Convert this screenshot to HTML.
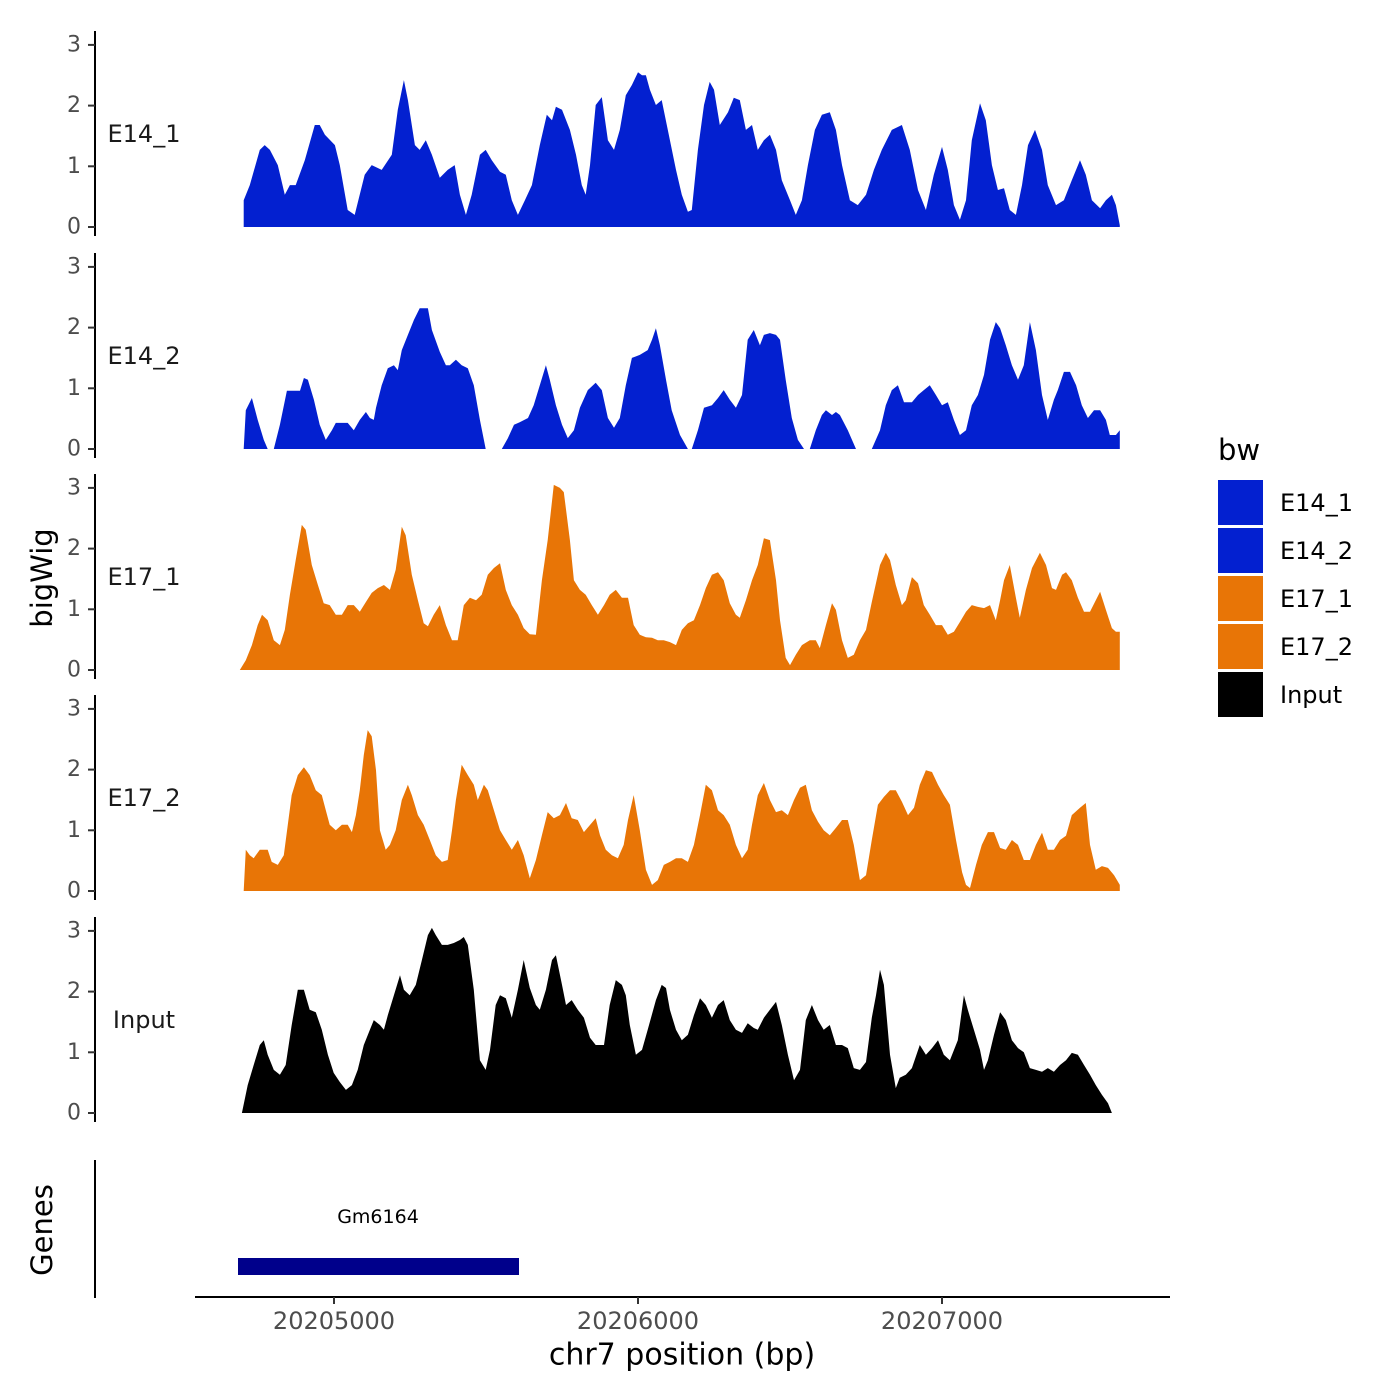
<!DOCTYPE html>
<html><head><meta charset="utf-8"><style>
html,body{margin:0;padding:0;background:#fff;}
svg{display:block;font-family:"DejaVu Sans","Liberation Sans",sans-serif;}
</style></head><body>
<svg id="chart" width="1400" height="1400" viewBox="0 0 1400 1400">
<rect x="0" y="0" width="1400" height="1400" fill="#fff"/>
<g id="tracks"></g>
<g id="axes"></g>
<text x="42" y="578" transform="rotate(-90 42 578)" text-anchor="middle" dominant-baseline="central" font-size="29" fill="#000">bigWig</text>
<text x="42" y="1230" transform="rotate(-90 42 1230)" text-anchor="middle" dominant-baseline="central" font-size="29" fill="#000">Genes</text>
<line x1="95" y1="1160" x2="95" y2="1298" stroke="#000" stroke-width="2"/>
<rect x="238" y="1258" width="281" height="17" fill="#00008B"/>
<text x="378" y="1217" text-anchor="middle" dominant-baseline="central" font-size="19" fill="#000">Gm6164</text>
<line x1="195" y1="1297" x2="1170" y2="1297" stroke="#000" stroke-width="2"/>
<g id="xticks"></g>
<text x="682" y="1355" text-anchor="middle" dominant-baseline="central" font-size="30" fill="#000">chr7 position (bp)</text>
<g id="legend">
<text x="1218" y="450" dominant-baseline="central" font-size="29" fill="#000">bw</text>
</g>
</svg>
<script>
const regionStart = 20204700;
const trackNames = ["E14_1","E14_2","E17_1","E17_2","Input"];
const trackColors = ["#0320D0","#0320D0","#E87506","#E87506","#000000"];
const yTicks = [0,1,2,3];
const xTickValues = [20205000,20206000,20207000];
const xTickLabels = ["20205000","20206000","20207000"];

const e14_1_pos = [3,23,56,72,89,115,138,155,174,204,237,253,270,303,319,345,368,401,424,457,490,510,530,543,566,582,602,622,648,674,697,714,734,753,780,799,819,846,865,885,905,928,951,977,1000,1017,1030,1050,1076,1096,1115,1128,1142,1161,1181,1201,1221,1240,1260,1280,1300,1313,1326,1339,1359,1378,1398,1425,1444,1464,1477,1497,1517,1536,1550,1569,1596,1615,1635,1655,1675,1694,1714,1734,1754,1773,1800,1819,1839,1859,1882,1905,1931,1951,1971,1997,2023,2050,2076,2102,2135,2168,2194,2221,2247,2273,2300,2319,2339,2359,2379,2398,2425,2444,2464,2484,2504,2523,2543,2563,2583,2606,2629,2648,2675,2701,2727,2754,2773,2793,2820,2839,2859,2872,2885];
const e14_1_val = [0.44,0.69,1.27,1.35,1.27,1.02,0.53,0.69,0.69,1.10,1.68,1.68,1.52,1.35,1.02,0.28,0.20,0.86,1.02,0.94,1.19,1.93,2.42,2.09,1.35,1.27,1.43,1.19,0.81,0.94,1.02,0.53,0.20,0.53,1.19,1.27,1.10,0.91,0.86,0.44,0.20,0.44,0.69,1.35,1.85,1.76,1.98,1.93,1.60,1.19,0.69,0.53,1.02,2.01,2.14,1.43,1.27,1.60,2.17,2.34,2.55,2.50,2.50,2.26,2.01,2.09,1.60,0.94,0.53,0.25,0.28,1.27,2.01,2.39,2.26,1.68,1.89,2.13,2.09,1.60,1.68,1.27,1.43,1.52,1.27,0.77,0.44,0.20,0.44,1.02,1.60,1.85,1.89,1.60,1.02,0.44,0.36,0.53,0.94,1.27,1.60,1.68,1.27,0.61,0.28,0.86,1.32,0.94,0.36,0.12,0.44,1.43,2.04,1.76,1.02,0.61,0.64,0.28,0.20,0.69,1.35,1.60,1.27,0.69,0.36,0.44,0.77,1.10,0.86,0.44,0.31,0.44,0.53,0.36,0.03];

const e14_2_pos = [3,10,30,49,69,82,102,122,145,188,201,214,234,253,273,293,306,345,365,385,405,418,431,438,457,477,497,510,523,543,563,582,609,622,648,668,681,701,720,740,760,780,799,852,872,892,911,938,957,977,997,1010,1030,1050,1069,1089,1109,1135,1161,1181,1201,1221,1240,1260,1280,1306,1332,1346,1359,1372,1392,1411,1438,1464,1477,1497,1517,1543,1563,1582,1602,1622,1642,1661,1681,1701,1714,1734,1754,1767,1786,1806,1826,1846,1865,1885,1905,1918,1938,1951,1964,1990,2017,2069,2096,2115,2135,2155,2175,2201,2221,2240,2260,2280,2300,2319,2339,2359,2379,2398,2418,2438,2458,2477,2491,2510,2530,2550,2569,2589,2609,2629,2648,2668,2681,2701,2721,2741,2760,2780,2800,2820,2839,2852,2872,2885];
const e14_2_val = [0,0.64,0.84,0.48,0.15,0,0,0.40,0.96,0.96,1.17,1.14,0.81,0.40,0.15,0.31,0.43,0.43,0.31,0.48,0.61,0.51,0.48,0.68,1.05,1.33,1.38,1.30,1.63,1.88,2.13,2.32,2.32,1.96,1.60,1.38,1.38,1.47,1.38,1.33,1.05,0.48,0,0,0.18,0.40,0.44,0.51,0.72,1.05,1.38,1.14,0.72,0.40,0.18,0.31,0.68,0.97,1.09,0.97,0.51,0.35,0.51,1.05,1.50,1.55,1.63,1.80,1.99,1.71,1.14,0.64,0.23,0,0,0.31,0.68,0.72,0.84,0.97,0.81,0.68,0.89,1.80,1.96,1.71,1.88,1.91,1.88,1.80,1.14,0.51,0.15,0,0,0.31,0.56,0.64,0.56,0.61,0.56,0.31,0,0,0.31,0.72,0.97,1.05,0.77,0.77,0.89,0.97,1.05,0.89,0.72,0.77,0.48,0.23,0.31,0.72,0.89,1.22,1.80,2.09,1.99,1.71,1.38,1.14,1.38,2.09,1.63,0.89,0.48,0.81,0.97,1.27,1.27,1.05,0.72,0.51,0.64,0.64,0.48,0.23,0.23,0.31];

const e17_1_pos = [-10,10,30,49,63,82,102,122,138,155,174,194,207,227,247,266,286,306,326,345,365,385,405,424,444,464,484,503,523,536,556,576,595,609,628,648,668,688,707,727,747,767,786,806,826,846,865,885,905,924,944,964,984,1003,1023,1043,1056,1076,1089,1109,1128,1148,1168,1188,1207,1227,1247,1267,1286,1306,1326,1346,1365,1385,1405,1425,1444,1464,1484,1504,1523,1543,1563,1582,1602,1622,1635,1655,1675,1694,1714,1734,1754,1767,1786,1800,1819,1839,1865,1885,1898,1918,1938,1951,1971,1990,2010,2030,2050,2069,2096,2115,2129,2148,2168,2181,2201,2221,2240,2260,2280,2300,2319,2339,2359,2379,2398,2418,2438,2458,2477,2491,2504,2523,2543,2556,2576,2596,2622,2642,2662,2675,2695,2708,2727,2747,2767,2787,2806,2820,2839,2859,2872,2885];
const e17_1_val = [0,0.16,0.41,0.74,0.91,0.82,0.49,0.41,0.66,1.24,1.81,2.39,2.31,1.73,1.40,1.10,1.07,0.91,0.91,1.07,1.07,0.96,1.12,1.27,1.35,1.40,1.32,1.65,2.36,2.22,1.57,1.15,0.77,0.72,0.91,1.07,0.74,0.49,0.49,1.07,1.19,1.15,1.24,1.57,1.68,1.76,1.32,1.07,0.91,0.69,0.59,0.58,1.48,2.14,3.05,3.00,2.93,2.14,1.48,1.32,1.24,1.07,0.91,1.07,1.24,1.32,1.19,1.19,0.74,0.58,0.54,0.53,0.49,0.49,0.46,0.41,0.66,0.77,0.82,1.07,1.35,1.57,1.61,1.48,1.10,0.91,0.86,1.15,1.48,1.73,2.17,2.14,1.48,0.82,0.20,0.08,0.25,0.41,0.49,0.49,0.36,0.74,1.10,0.99,0.49,0.20,0.25,0.49,0.66,1.12,1.73,1.93,1.81,1.40,1.07,1.15,1.53,1.43,1.07,0.91,0.74,0.74,0.58,0.63,0.79,0.96,1.07,1.04,1.02,1.07,0.82,1.15,1.48,1.73,1.19,0.86,1.32,1.68,1.93,1.73,1.35,1.32,1.57,1.61,1.48,1.19,0.96,0.96,1.15,1.29,0.99,0.69,0.63,0.63];

const e17_2_pos = [3,10,23,36,56,82,95,115,135,148,161,181,201,220,240,260,273,286,306,326,345,359,372,385,398,411,424,438,451,470,484,503,523,543,556,576,595,615,635,655,674,688,701,720,740,760,773,793,806,826,846,865,885,905,924,944,964,984,1003,1023,1043,1063,1082,1102,1122,1161,1175,1194,1214,1234,1253,1267,1286,1306,1326,1346,1365,1385,1405,1425,1444,1464,1484,1504,1523,1543,1563,1582,1602,1622,1642,1661,1675,1694,1714,1734,1754,1773,1793,1813,1833,1852,1872,1892,1911,1931,1951,1971,1990,2010,2030,2050,2069,2089,2109,2129,2148,2168,2188,2208,2227,2247,2267,2287,2306,2326,2346,2366,2379,2392,2412,2431,2451,2471,2491,2510,2530,2550,2569,2589,2609,2629,2648,2668,2688,2708,2727,2754,2773,2787,2806,2826,2846,2866,2885];
const e17_2_val = [0,0.68,0.59,0.54,0.68,0.68,0.48,0.43,0.59,1.09,1.58,1.91,2.04,1.91,1.66,1.58,1.33,1.09,1.00,1.09,1.09,0.97,1.25,1.66,2.24,2.65,2.55,1.99,1.00,0.68,0.76,1.00,1.50,1.75,1.58,1.25,1.09,0.84,0.59,0.48,0.51,1.00,1.50,2.08,1.91,1.75,1.50,1.75,1.66,1.33,1.00,0.84,0.68,0.84,0.59,0.21,0.51,0.92,1.30,1.20,1.25,1.45,1.20,1.17,0.97,1.20,0.92,0.68,0.59,0.54,0.76,1.17,1.58,1.00,0.35,0.10,0.18,0.43,0.48,0.54,0.54,0.48,0.76,1.25,1.75,1.66,1.33,1.25,1.09,0.76,0.54,0.68,1.09,1.58,1.78,1.50,1.30,1.33,1.25,1.50,1.70,1.75,1.33,1.14,1.00,0.92,1.04,1.17,1.17,0.76,0.18,0.26,0.84,1.42,1.55,1.66,1.66,1.47,1.25,1.37,1.75,1.99,1.96,1.75,1.58,1.42,0.84,0.31,0.10,0.05,0.43,0.76,0.97,0.97,0.71,0.68,0.84,0.76,0.51,0.51,0.76,0.96,0.68,0.68,0.84,0.91,1.25,1.37,1.45,0.76,0.35,0.41,0.38,0.26,0.10];

const input_pos = [-3,16,36,56,69,82,102,122,141,161,181,201,220,240,260,280,299,319,339,359,378,398,418,431,451,464,477,497,517,530,549,569,589,609,622,635,655,674,694,714,727,740,760,780,799,813,832,846,865,885,905,924,944,964,977,997,1017,1030,1050,1063,1082,1102,1122,1142,1161,1188,1207,1227,1247,1260,1273,1293,1313,1332,1359,1378,1392,1405,1425,1444,1464,1484,1504,1523,1543,1563,1582,1602,1622,1642,1661,1681,1694,1714,1734,1754,1773,1793,1813,1833,1852,1872,1892,1911,1931,1951,1971,1990,2010,2030,2050,2069,2083,2096,2109,2129,2148,2161,2181,2201,2227,2247,2267,2287,2306,2326,2352,2372,2385,2405,2425,2438,2451,2471,2491,2510,2530,2550,2569,2589,2609,2629,2648,2668,2688,2708,2727,2747,2767,2787,2806,2826,2846,2859];
const input_val = [0,0.46,0.79,1.12,1.20,0.96,0.71,0.63,0.79,1.45,2.03,2.03,1.70,1.66,1.37,0.96,0.66,0.51,0.38,0.46,0.71,1.12,1.37,1.53,1.45,1.37,1.61,1.94,2.27,2.03,1.94,2.11,2.52,2.93,3.05,2.93,2.77,2.77,2.80,2.85,2.90,2.77,2.03,0.87,0.71,1.04,1.78,1.94,1.89,1.57,2.03,2.52,2.06,1.78,1.70,2.03,2.52,2.60,2.11,1.78,1.86,1.70,1.57,1.24,1.12,1.12,1.78,2.19,2.11,1.94,1.45,0.96,1.04,1.37,1.86,2.11,2.06,1.70,1.37,1.20,1.29,1.61,1.89,1.78,1.57,1.78,1.86,1.53,1.37,1.32,1.48,1.40,1.37,1.57,1.70,1.83,1.45,0.96,0.54,0.71,1.53,1.78,1.53,1.37,1.45,1.12,1.12,1.07,0.74,0.71,0.84,1.57,1.94,2.36,2.11,0.96,0.41,0.58,0.63,0.74,1.12,0.96,1.07,1.20,0.96,0.87,1.20,1.94,1.70,1.37,1.04,0.71,0.87,1.29,1.66,1.53,1.20,1.07,1.00,0.74,0.71,0.68,0.74,0.68,0.79,0.87,0.99,0.96,0.79,0.63,0.46,0.30,0.16,0];

const trackPositions = [e14_1_pos,e14_2_pos,e17_1_pos,e17_2_pos,input_pos];
const trackValues = [e14_1_val,e14_2_val,e17_1_val,e17_2_val,input_val];

const NS = "http://www.w3.org/2000/svg";
const panelBase = [227,449,670,891,1113];
const unitPx = 60.7;
function xScale(bp){ return 334 + (bp - 20205000) * 0.304; }
function yScale(panel, v){ return panelBase[panel] - v * unitPx; }
function mk(tag, attrs, parent){
  const el = document.createElementNS(NS, tag);
  for (const k in attrs) el.setAttribute(k, attrs[k]);
  parent.appendChild(el);
  return el;
}
const tracksG = document.getElementById("tracks");
const axesG = document.getElementById("axes");
trackNames.forEach((name, p) => {
  const pos = trackPositions[p], val = trackValues[p];
  let d = "M" + xScale(regionStart + pos[0]).toFixed(1) + "," + yScale(p, 0);
  for (let i = 0; i < pos.length; i++) {
    d += "L" + xScale(regionStart + pos[i]).toFixed(1) + "," + yScale(p, val[i]).toFixed(1);
  }
  d += "L" + xScale(regionStart + pos[pos.length-1]).toFixed(1) + "," + yScale(p, 0) + "Z";
  const path = mk("path", {d: d, fill: trackColors[p], "stroke-linejoin": "round"}, tracksG);
  
  
  const axis = mk("line", {x1: 95, x2: 95, y1: panelBase[p] - 196, y2: panelBase[p] + 9, stroke: "#000", "stroke-width": 2}, axesG);
  
  
  yTicks.forEach(t => {
    const y = yScale(p, t);
    const tk = mk("line", {x1: 88, x2: 95, y1: y, y2: y, stroke: "#333", "stroke-width": 2}, axesG);
    
    
    const tl = mk("text", {x: 81, y: y, "text-anchor": "end", "dominant-baseline": "central", "font-size": 22, fill: "#4d4d4d"}, axesG);
    
    
    tl.textContent = String(t);
  });
  const strip = mk("text", {x: 144, y: panelBase[p] - 93, "text-anchor": "middle", "dominant-baseline": "central", "font-size": 24, fill: "#1a1a1a"}, axesG);
  
  
  strip.textContent = name;
});
const xt = document.getElementById("xticks");
xTickValues.forEach((v, i) => {
  const x = xScale(v);
  const tk = mk("line", {x1: x, x2: x, y1: 1297, y2: 1304, stroke: "#333", "stroke-width": 2}, xt);
  
  
  const tl = mk("text", {x: x, y: 1321, "text-anchor": "middle", "dominant-baseline": "central", "font-size": 24, fill: "#4d4d4d"}, xt);
  
  
  tl.textContent = xTickLabels[i];
});
const lg = document.getElementById("legend");
trackNames.forEach((name, i) => {
  const y = 480 + i * 48;
  const r = mk("rect", {x: 1218, y: y, width: 45, height: 45, fill: trackColors[i]}, lg);
  
  
  const t = mk("text", {x: 1280, y: y + 23, "dominant-baseline": "central", "font-size": 24, fill: "#000"}, lg);
  
  
  t.textContent = name;
});
</script>
</body></html>
